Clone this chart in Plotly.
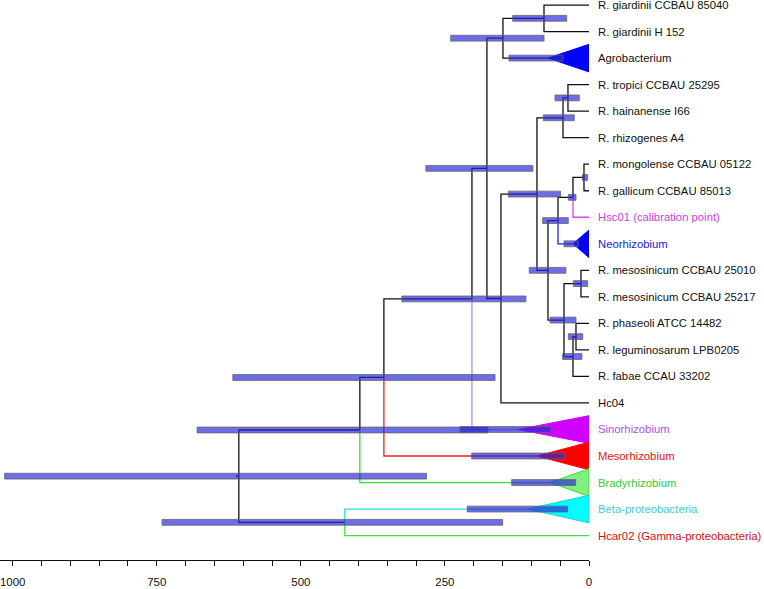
import plotly.graph_objects as go

# ---------------- data ----------------
tip_labels = [
    "R. giardinii CCBAU 85040", "R. giardinii H 152", "Agrobacterium",
    "R. tropici CCBAU 25295", "R. hainanense I66", "R. rhizogenes A4",
    "R. mongolense CCBAU 05122", "R. gallicum CCBAU 85013",
    "Hsc01 (calibration point)", "Neorhizobium",
    "R. mesosinicum CCBAU 25010", "R. mesosinicum CCBAU 25217",
    "R. phaseoli ATCC 14482", "R. leguminosarum LPB0205", "R. fabae CCAU 33202",
    "Hc04", "Sinorhizobium", "Mesorhizobium", "Bradyrhizobium",
    "Beta-proteobacteria", "Hcar02 (Gamma-proteobacteria)",
]
tip_label_colors = [
    "#111111", "#111111", "#111111", "#111111", "#111111", "#111111",
    "#111111", "#111111", "#D040E0", "#1A1AE0",
    "#111111", "#111111", "#111111", "#111111", "#111111",
    "#111111", "#B050E8", "#E01515", "#33CC33", "#44CCDD", "#CC1111",
]
tip_branch_colors = [
    "#111111", "#111111", "#111111", "#111111", "#111111", "#111111",
    "#111111", "#111111", "#DD44EE", "#2222DD",
    "#111111", "#111111", "#111111", "#111111", "#111111",
    "#111111", "#BB88EE", "#EE2222", "#33DD33", "#22DDDD", "#44DD44",
]
# crown age of collapsed clades (0 for single tips)
tip_crown_age = [0, 0, 71.2, 0, 0, 0, 0, 0, 0, 27.8,
                 0, 0, 0, 0, 0, 0, 123.3, 90.3, 67.7, 107.6, 0]
tri_fill = [None, None, "#0000FF", None, None, None, None, None, None, "#0000FF",
            None, None, None, None, None, None, "#D000FF", "#FF0000", "#80F080", "#00FFFF", None]
tri_line = [None, None, "#0000FF", None, None, None, None, None, None, "#0000FF",
            None, None, None, None, None, None, "#D000FF", "#FF0000", "#33DD33", "#22CCDD", None]

# internal nodes (age in Ma) and their two children
node_names = ["root", "A", "S", "B", "C", "D", "E", "K", "F", "G",
              "H", "J", "I", "L", "N", "O", "M", "P", "Q", "R"]
node_ages = [607.6, 397.6, 423.6, 355.9, 203.1, 177.1, 149.3, 78.1, 152.8, 90.3,
             45.1, 36.5, 71.2, 53.8, 27.8, 8.7, 43.4, 13.9, 27.8, 22.6]
node_child1 = ["A", "B", "Beta-proteobacteria", "C", "D", "E", "K",
               "R. giardinii CCBAU 85040", "G", "H", "J", "R. tropici CCBAU 25295",
               "L", "N", "O", "R. mongolense CCBAU 05122", "P",
               "R. mesosinicum CCBAU 25010", "R", "R. phaseoli ATCC 14482"]
node_child2 = ["S", "Bradyrhizobium", "Hcar02 (Gamma-proteobacteria)", "Mesorhizobium",
               "Sinorhizobium", "F", "Agrobacterium", "R. giardinii H 152", "Hc04", "I",
               "R. rhizogenes A4", "R. hainanense I66", "M", "Neorhizobium",
               "Hsc01 (calibration point)", "R. gallicum CCBAU 85013", "Q",
               "R. mesosinicum CCBAU 25217", "R. fabae CCAU 33202", "R. leguminosarum LPB0205"]
root_stub_age = 612.8

# 95% HPD intervals of node ages
hpd_nodes = ["root", "A", "S", "B", "C", "D", "E", "K", "Agrobacterium", "J", "H", "G",
             "I", "L", "N", "O", "Neorhizobium", "P", "M", "R", "Q",
             "Sinorhizobium", "Mesorhizobium", "Bradyrhizobium", "Beta-proteobacteria"]
hpd_upper = [1013.9, 680.0, 740.8, 618.0, 324.7, 283.0, 240.0, 132.5, 138.9, 59.0, 79.3, 140.0,
             103.6, 80.4, 35.9, 11.6, 43.4, 27.3, 67.7, 35.9, 45.7,
             224.0, 203.6, 134.2, 211.3]
hpd_lower = [281.8, 175.3, 149.8, 163.0, 109.4, 97.2, 78.0, 38.7, 45.1, 16.8, 25.5, 49.1,
             40.0, 35.9, 22.6, 2.3, 18.6, 2.3, 22.6, 10.9, 12.2,
             66.0, 42.9, 23.1, 37.0]

axis_ticks = [1000, 750, 500, 250, 0]

# ---------------- layout of tree ----------------
n_tips = len(tip_labels)
ypos = {name: (n_tips - 1 - i) for i, name in enumerate(tip_labels)}
agepos = {name: tip_crown_age[i] for i, name in enumerate(tip_labels)}
colpos = {name: tip_branch_colors[i] for i, name in enumerate(tip_labels)}
BLACK = "#111111"
children = {}
for nm, ag, c1, c2 in zip(node_names, node_ages, node_child1, node_child2):
    agepos[nm] = ag
    colpos[nm] = BLACK
    children[nm] = (c1, c2)


def get_y(nm):
    if nm in ypos:
        return ypos[nm]
    c1, c2 = children[nm]
    ypos[nm] = (get_y(c1) + get_y(c2)) / 2
    return ypos[nm]


for nm in node_names:
    get_y(nm)

segs = {}


def add_seg(color, xs, ys):
    d = segs.setdefault(color, ([], []))
    d[0].extend(xs + [None])
    d[1].extend(ys + [None])


for nm in node_names:
    for c in children[nm]:
        col = colpos[c]
        add_seg(col, [agepos[nm], agepos[nm], agepos[c]], [ypos[nm], ypos[c], ypos[c]])
add_seg(BLACK, [root_stub_age, agepos["root"]], [ypos["root"], ypos["root"]])

fig = go.Figure()
for col, (xs, ys) in segs.items():
    fig.add_trace(go.Scatter(x=xs, y=ys, mode="lines", line=dict(color=col, width=1.3),
                             hoverinfo="skip", showlegend=False))

# collapsed clade triangles
TRI_H = 0.52
for i, nm in enumerate(tip_labels):
    if tri_fill[i] is None:
        continue
    y = ypos[nm]
    a = tip_crown_age[i]
    fig.add_trace(go.Scatter(x=[a, 0, 0, a], y=[y, y + TRI_H, y - TRI_H, y], mode="lines",
                             fill="toself", fillcolor=tri_fill[i],
                             line=dict(color=tri_line[i], width=1),
                             hoverinfo="skip", showlegend=False))

# HPD bars
BAR_H = 0.11
for nm, hi, lo in zip(hpd_nodes, hpd_upper, hpd_lower):
    y = ypos[nm]
    fig.add_trace(go.Scatter(x=[lo, hi, hi, lo, lo], y=[y - BAR_H, y - BAR_H, y + BAR_H, y + BAR_H, y - BAR_H],
                             mode="lines", fill="toself", fillcolor="rgba(40,40,215,0.68)",
                             line=dict(color="rgba(100,100,110,0.8)", width=1),
                             hoverinfo="skip", showlegend=False))

# tip labels
for i, nm in enumerate(tip_labels):
    fig.add_annotation(x=0, y=ypos[nm], xref="x", yref="y", text=nm, showarrow=False,
                       xanchor="left", yanchor="middle", xshift=7,
                       font=dict(family="Arial, Liberation Sans", size=11.3, color=tip_label_colors[i]))

fig.update_layout(
    width=764, height=589,
    margin=dict(l=0, r=175, t=0, b=29),
    paper_bgcolor="white", plot_bgcolor="white",
    showlegend=False,
    font=dict(family="Arial, Liberation Sans", size=11.5, color="#111111"),
)
fig.update_xaxes(range=[1022, 0], tickvals=axis_ticks, ticktext=[str(v) for v in axis_ticks],
                 ticks="outside", ticklen=5, tickcolor="#111111", showline=True,
                 linecolor="#111111", linewidth=1, showgrid=False, zeroline=False,
                 minor=dict(dtick=50, tick0=0, ticks="outside", ticklen=5, tickcolor="#111111"),
                 tickfont=dict(size=11.5, color="#111111"), ticklabelstandoff=6,
                 ticklabeloverflow="allow", automargin=False)
fig.update_yaxes(range=[-0.92, 20.19], visible=False, automargin=False)

fig.write_html("out.html", config={"displayModeBar": False},
               post_script="document.body.style.margin='0px';")
